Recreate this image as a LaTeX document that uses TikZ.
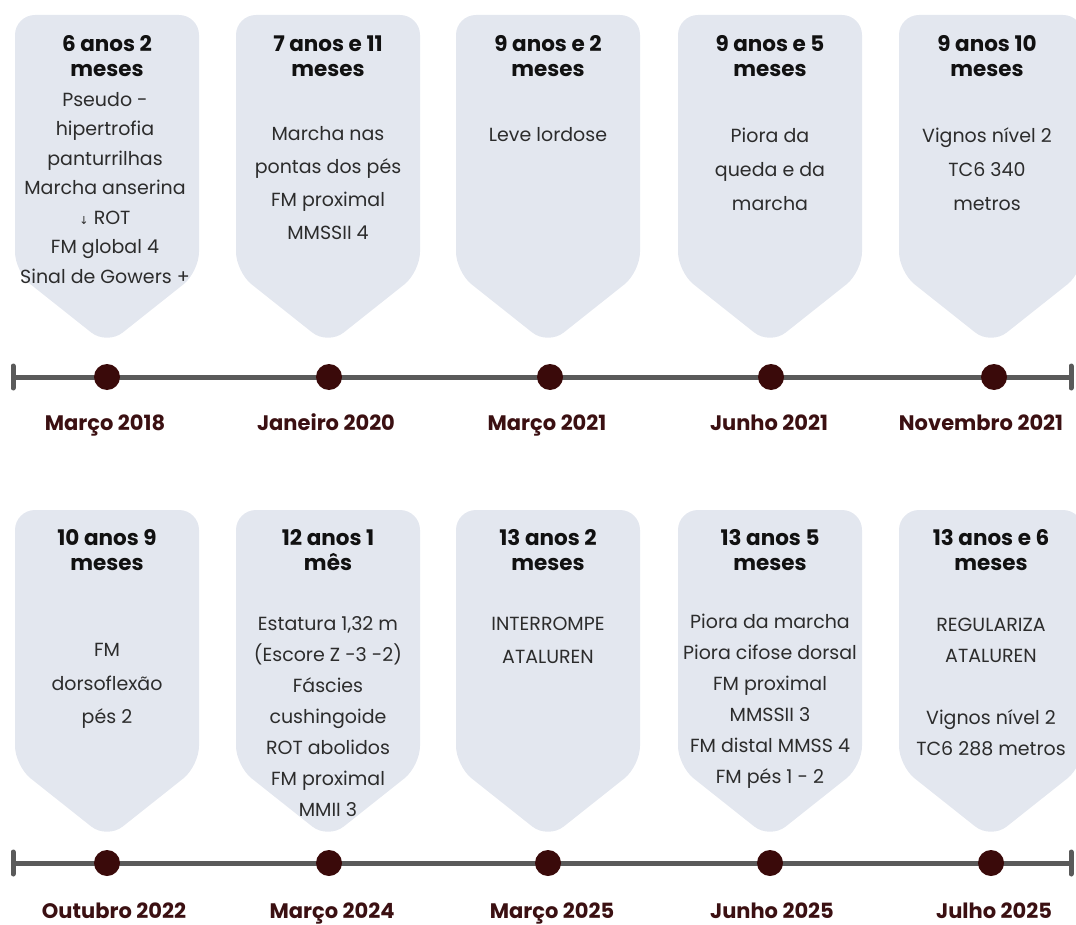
\documentclass[tikz,border=0pt]{standalone}
\usepackage{fontspec}
\setmainfont{Poppins}
\newfontfamily\arrowfont{DejaVu Sans}
\usepackage{tikz}
\usetikzlibrary{positioning}
\definecolor{boxfill}{HTML}{E3E7EF}
\definecolor{bodytext}{HTML}{2C2C2C}
\definecolor{titletext}{HTML}{111111}
\definecolor{datetext}{HTML}{3B1012}
\definecolor{dotfill}{HTML}{3A0A0A}
\definecolor{linegray}{HTML}{5A5A5A}
\tikzset{
  card/.style={
    fill=boxfill,
    rounded corners=20pt
  },
  dot/.style={
    circle,
    fill=dotfill,
    minimum size=26pt,
    inner sep=0pt
  },
  title/.style={
    font=\fontsize{21.5}{25}\selectfont\bfseries,
    align=center,
    text=titletext
  },
  body/.style={
    font=\fontsize{19}{#1}\selectfont,
    align=center,
    text=bodytext
  },
  body/.default=31,
  date/.style={
    font=\fontsize{21}{24}\selectfont\bfseries,
    text=datetext,
    inner sep=0pt,
    text height=15pt,
    text depth=4pt
  },
  timeline/.style={
    line width=5pt,
    draw=linegray
  }
}
% card: centre x, top, end of the sides, tip
\newcommand{\card}[4]{%
  \fill[card] (#1,#2) -- (#1+92,#2) -- (#1+92,#3) -- (#1,#4) -- (#1-92,#3) -- (#1-92,#2) -- cycle;}
\newcommand{\darrow}{{\arrowfont\fontsize{11}{11}\selectfont ↓}}

\begin{document}
\begin{tikzpicture}[x=1pt,y=-1pt,on grid]
      \useasboundingbox (0,0) rectangle (1076,925);
      % cards
      \card{107}{15}{272}{345}
      \card{328}{15}{272}{345}
      \card{548}{15}{272}{345}
      \card{770}{15}{272}{345}
      \card{991}{15}{272}{345}
      \card{107}{510}{766}{839}
      \card{328}{510}{766}{839}
      \card{548}{510}{766}{839}
      \card{770}{510}{766}{839}
      \card{991}{510}{766}{839}
      % first row
      \node[title]     (a_1) at (107,56)  {6 anos 2\\meses};
      \node[body=29.5] (b_1) at (105,188) {Pseudo -\\hipertrofia\\panturrilhas\\Marcha anserina\\\darrow{} ROT\\FM global 4\\Sinal de Gowers +};
      \node[title]     (a_2) at (328,56)  {7 anos e 11\\meses};
      \node[body=33]   (b_2) at (328,183) {Marcha nas\\pontas dos pés\\FM proximal\\MMSSII 4};
      \node[title]     (a_3) at (548,56)  {9 anos e 2\\meses};
      \node[body]      (b_3) at (548,135) {Leve lordose};
      \node[title]     (a_4) at (770,56)  {9 anos e 5\\meses};
      \node[body=34]   (b_4) at (770,169) {Piora da\\queda e da\\marcha};
      \node[title]     (a_5) at (987,56)  {9 anos 10\\meses};
      \node[body=34]   (b_5) at (987,169) {Vignos nível 2\\TC6 340\\metros};
      \coordinate (ta) at (13,377);
      \coordinate (tb) at (1071,377);
      \draw[timeline] (ta) -- (tb);
      \draw[timeline,line cap=round] ([yshift=-11pt]ta) -- ([yshift=11pt]ta);
      \draw[timeline,line cap=round] ([yshift=-11pt]tb) -- ([yshift=11pt]tb);
      \node[dot] (d_1) at (107,377) {};
      \node[dot] (d_2) at (329,377) {};
      \node[dot] (d_3) at (550,377) {};
      \node[dot] (d_4) at (771,377) {};
      \node[dot] (d_5) at (994,377) {};
      \node[date] (m_1) [below=48pt of d_1,xshift=-2pt] {Março 2018};
      \node[date] (m_2) [below=48pt of d_2,xshift=-3pt] {Janeiro 2020};
      \node[date] (m_3) [below=48pt of d_3,xshift=-3pt] {Março 2021};
      \node[date] (m_4) [below=48pt of d_4,xshift=-2pt] {Junho 2021};
      \node[date] (m_5) [below=48pt of d_5,xshift=-13pt] {Novembro 2021};
      % second row
      \node[title]     (a_6)  at (107,550) {10 anos 9\\meses};
      \node[body=33.5] (b_6)  at (107,686) {FM\\dorsoflexão\\pés 2};
      \node[title]     (a_7)  at (328,550) {12 anos 1\\mês};
      \node[body=31]   (b_7)  at (328,717) {Estatura 1,32 m\\(Escore Z -3 -2)\\Fáscies\\cushingoide\\ROT abolidos\\FM proximal\\MMII 3};
      \node[title]     (a_8)  at (548,550) {13 anos 2\\meses};
      \node[body=33]   (b_8)  at (548,640) {INTERROMPE\\ATALUREN};
      \node[title]     (a_9)  at (770,550) {13 anos 5\\meses};
      \node[body=31]   (b_9)  at (770,701) {Piora da marcha\\Piora cifose dorsal\\FM proximal\\MMSSII 3\\FM distal MMSS 4\\FM pés 1 - 2};
      \node[title]     (a_10) at (991,550) {13 anos e 6\\meses};
      \node[body=31]   (b_10) at (991,687) {REGULARIZA\\ATALUREN\\[31pt]Vignos nível 2\\TC6 288 metros};
      \coordinate (tc) at (13,863);
      \coordinate (td) at (1071,863);
      \draw[timeline] (tc) -- (td);
      \draw[timeline,line cap=round] ([yshift=-11pt]tc) -- ([yshift=11pt]tc);
      \draw[timeline,line cap=round] ([yshift=-11pt]td) -- ([yshift=11pt]td);
      \node[dot] (d_6)  at (107,863) {};
      \node[dot] (d_7)  at (329,863) {};
      \node[dot] (d_8)  at (548,863) {};
      \node[dot] (d_9)  at (770,863) {};
      \node[dot] (d_10) at (991,863) {};
      \node[date] (m_6)  [below=50pt of d_6,xshift=7pt]  {Outubro 2022};
      \node[date] (m_7)  [below=50pt of d_7,xshift=3pt]  {Março 2024};
      \node[date] (m_8)  [below=50pt of d_8,xshift=4pt]  {Março 2025};
      \node[date] (m_9)  [below=50pt of d_9,xshift=2pt]  {Junho 2025};
      \node[date] (m_10) [below=50pt of d_10,xshift=3pt] {Julho 2025};
    \end{tikzpicture}
\end{document}
